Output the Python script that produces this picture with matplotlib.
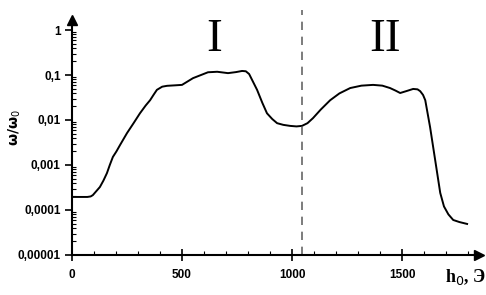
import numpy as np
import matplotlib
matplotlib.use("Agg")
import matplotlib.pyplot as plt
from matplotlib.ticker import FixedLocator, MultipleLocator, NullFormatter

# field h0 (Oe) and relative frequency omega/omega0
h0 = [0, 70, 85, 95, 110, 127, 143, 159, 172, 186, 202, 218, 250, 280, 309,
      335, 355, 372, 386, 410, 432, 470, 500, 550, 618, 660, 709, 745, 773,
      790, 805, 820, 841, 865, 886, 910, 932, 960, 991, 1020, 1045, 1070,
      1095, 1130, 1173, 1215, 1264, 1315, 1368, 1410, 1445, 1470, 1491, 1520,
      1550, 1570, 1582, 1595, 1605, 1627, 1650, 1673, 1690, 1710, 1732,
      1760, 1795]
omega = [0.000195, 0.000195, 0.0002, 0.000214, 0.00026, 0.000324, 0.00045,
         0.00066, 0.001, 0.00151, 0.002, 0.00275, 0.0051, 0.0085, 0.0141,
         0.021, 0.0275, 0.037, 0.0468, 0.055, 0.0575, 0.059, 0.0603, 0.0851,
         0.115, 0.118, 0.110, 0.116, 0.123, 0.121, 0.105, 0.075, 0.0468,
         0.024, 0.0141, 0.0105, 0.0085, 0.0078, 0.0074, 0.0072, 0.0074,
         0.0085, 0.011, 0.017, 0.0275, 0.039, 0.0513, 0.058, 0.0603, 0.058,
         0.0513, 0.045, 0.0398, 0.044, 0.049, 0.048, 0.0437, 0.036, 0.0275,
         0.0069, 0.00129, 0.00024, 0.00012, 0.00008, 0.00006, 0.000054,
         0.000049]

y_ticks = [1e-5, 1e-4, 1e-3, 1e-2, 1e-1, 1]
y_labels = ["0,00001", "0,0001", "0,001", "0,01", "0,1", "1"]
x_ticks = [0, 500, 1000, 1500]
boundary = 1045
regions = ["I", "II"]
region_x = [645, 1420]

fig = plt.figure(figsize=(4.86, 2.95), dpi=100)
ax = fig.add_axes([0.148, 0.1356, 0.838, 0.7966])

ax.plot(h0, omega, color="black", lw=1.4)
ax.set_yscale("log")
ax.set_xlim(0, 1850)
ax.set_ylim(1e-5, 10 ** (10 / 45))

ax.axvline(boundary, ymin=0, ymax=1.043, color="#666666", lw=1.2,
           ls=(0, (5, 4)), clip_on=False)

for name, xr in zip(regions, region_x):
    ax.text(xr, 0.915, name, family="Liberation Serif", fontsize=34,
            ha="center", va="center", transform=ax.get_xaxis_transform())

for s in ["top", "right"]:
    ax.spines[s].set_visible(False)
for s in ["left", "bottom"]:
    ax.spines[s].set_linewidth(1.5)

# arrow heads on the axes
ax.plot(1, 0, ">", color="black", ms=7, transform=ax.transAxes, clip_on=False)
ax.plot(0, 1, "^", color="black", ms=7, transform=ax.transAxes, clip_on=False)

ax.yaxis.set_major_locator(FixedLocator(y_ticks))
ax.set_yticklabels(y_labels)
ax.yaxis.set_minor_formatter(NullFormatter())
ax.set_xticks(x_ticks)
ax.xaxis.set_minor_locator(MultipleLocator(100))

ax.tick_params(which="major", direction="out", length=5, width=1.2, pad=3)
ax.tick_params(which="minor", direction="in", length=3, width=0.8)
ax.tick_params(axis="x", which="major", direction="inout", length=8, pad=6)
for lab in ax.get_xticklabels() + ax.get_yticklabels():
    lab.set_fontweight("bold")
    lab.set_fontsize(8.5)
    lab.set_family("Liberation Sans")

fig.text(0.03, 0.566, "ω/ω$_0$", fontsize=10, fontweight="bold",
         rotation=90, ha="center", va="center")
fig.text(0.958, 0.06, "h$_0$, Э", family="Liberation Serif", fontsize=13,
         fontweight="bold", ha="center", va="center")

fig.savefig("out.png", dpi=100)
